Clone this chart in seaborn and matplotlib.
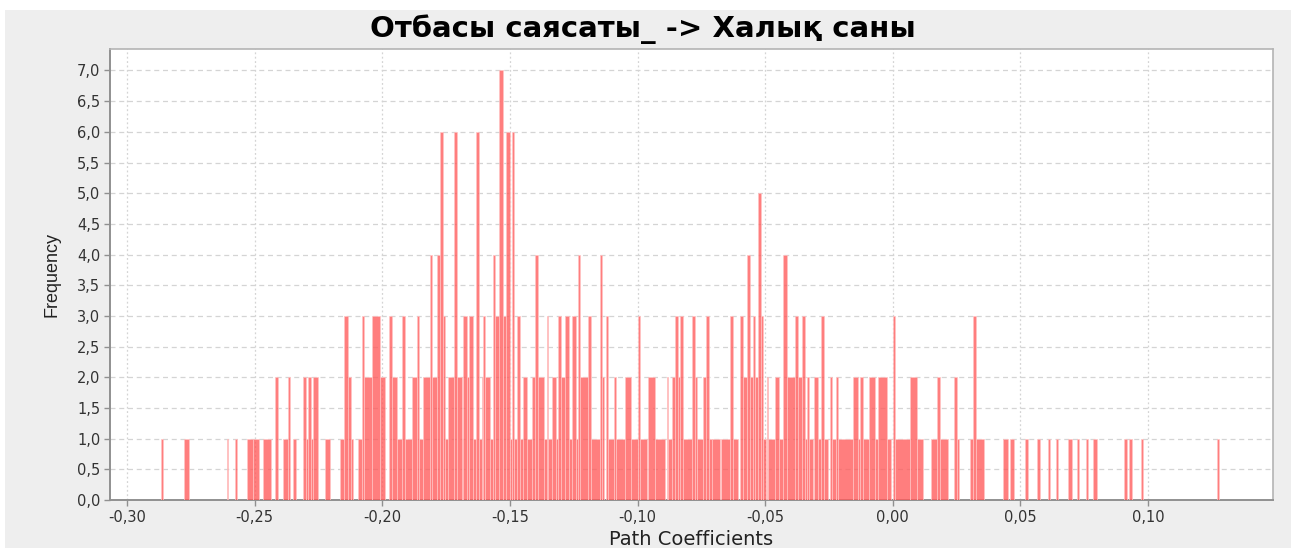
import numpy as np
import pandas as pd
import seaborn as sns
import matplotlib
matplotlib.use("Agg")
import matplotlib.pyplot as plt
from matplotlib.ticker import FuncFormatter, MultipleLocator
from matplotlib.patches import Rectangle

title = "Отбасы саясаты_ -> Халық саны"
x_label = "Path Coefficients"
y_label = "Frequency"

# histogram bars: left edge, right edge, frequency
bar_left = [
    -0.2868, -0.2777, -0.2610, -0.2577, -0.2529, -0.2505, -0.2468, -0.2420, -0.2388, -0.2368,
    -0.2351, -0.2311, -0.2299, -0.2291, -0.2279, -0.2271, -0.2224, -0.2165, -0.2149, -0.2135,
    -0.2122, -0.2096, -0.2080, -0.2070, -0.2041, -0.2009, -0.1973, -0.1963, -0.1944, -0.1924,
    -0.1911, -0.1885, -0.1865, -0.1856, -0.1839, -0.1813, -0.1804, -0.1787, -0.1774, -0.1761,
    -0.1754, -0.1741, -0.1718, -0.1706, -0.1689, -0.1682, -0.1669, -0.1659, -0.1646, -0.1633,
    -0.1621, -0.1611, -0.1604, -0.1598, -0.1578, -0.1567, -0.1558, -0.1542, -0.1528, -0.1515,
    -0.1500, -0.1491, -0.1483, -0.1473, -0.1460, -0.1450, -0.1434, -0.1414, -0.1402, -0.1389,
    -0.1366, -0.1356, -0.1349, -0.1336, -0.1319, -0.1310, -0.1301, -0.1284, -0.1268, -0.1255,
    -0.1242, -0.1234, -0.1225, -0.1193, -0.1182, -0.1147, -0.1140, -0.1125, -0.1117, -0.1091,
    -0.1085, -0.1049, -0.1025, -0.0997, -0.0990, -0.0960, -0.0931, -0.0885, -0.0879, -0.0866,
    -0.0853, -0.0840, -0.0833, -0.0822, -0.0788, -0.0775, -0.0768, -0.0745, -0.0732, -0.0719,
    -0.0708, -0.0673, -0.0638, -0.0627, -0.0598, -0.0588, -0.0572, -0.0559, -0.0549, -0.0540,
    -0.0528, -0.0517, -0.0507, -0.0494, -0.0487, -0.0461, -0.0444, -0.0431, -0.0413, -0.0383,
    -0.0373, -0.0357, -0.0344, -0.0337, -0.0328, -0.0307, -0.0294, -0.0281, -0.0268, -0.0246,
    -0.0239, -0.0224, -0.0216, -0.0155, -0.0137, -0.0128, -0.0115, -0.0093, -0.0069, -0.0059,
    -0.0024, 0.0002, 0.0009, 0.0067, 0.0094, 0.0149, 0.0172, 0.0185, 0.0240, 0.0251,
    0.0303, 0.0316, 0.0326, 0.0431, 0.0459, 0.0518, 0.0564, 0.0607, 0.0638, 0.0688,
    0.0723, 0.0756, 0.0786, 0.0906, 0.0927, 0.0971, 0.1270,
]
bar_right = [
    -0.2860, -0.2757, -0.2604, -0.2571, -0.2507, -0.2483, -0.2437, -0.2407, -0.2368, -0.2362,
    -0.2338, -0.2299, -0.2291, -0.2279, -0.2271, -0.2252, -0.2205, -0.2149, -0.2135, -0.2122,
    -0.2113, -0.2080, -0.2070, -0.2041, -0.2009, -0.1989, -0.1963, -0.1944, -0.1924, -0.1911,
    -0.1885, -0.1865, -0.1856, -0.1839, -0.1813, -0.1804, -0.1787, -0.1774, -0.1761, -0.1754,
    -0.1741, -0.1718, -0.1706, -0.1689, -0.1682, -0.1669, -0.1659, -0.1646, -0.1633, -0.1621,
    -0.1611, -0.1604, -0.1598, -0.1578, -0.1567, -0.1558, -0.1542, -0.1528, -0.1515, -0.1500,
    -0.1491, -0.1483, -0.1473, -0.1460, -0.1450, -0.1434, -0.1414, -0.1402, -0.1389, -0.1366,
    -0.1356, -0.1349, -0.1336, -0.1319, -0.1310, -0.1301, -0.1284, -0.1268, -0.1255, -0.1242,
    -0.1234, -0.1225, -0.1193, -0.1182, -0.1147, -0.1140, -0.1130, -0.1117, -0.1092, -0.1085,
    -0.1049, -0.1025, -0.0997, -0.0990, -0.0964, -0.0931, -0.0892, -0.0879, -0.0866, -0.0853,
    -0.0840, -0.0833, -0.0822, -0.0788, -0.0775, -0.0768, -0.0745, -0.0732, -0.0719, -0.0709,
    -0.0677, -0.0638, -0.0627, -0.0606, -0.0588, -0.0572, -0.0559, -0.0549, -0.0540, -0.0528,
    -0.0517, -0.0507, -0.0496, -0.0487, -0.0461, -0.0444, -0.0431, -0.0413, -0.0383, -0.0373,
    -0.0357, -0.0344, -0.0337, -0.0328, -0.0311, -0.0294, -0.0281, -0.0268, -0.0253, -0.0239,
    -0.0224, -0.0216, -0.0155, -0.0137, -0.0128, -0.0115, -0.0093, -0.0069, -0.0059, -0.0024,
    -0.0007, 0.0009, 0.0067, 0.0094, 0.0117, 0.0172, 0.0185, 0.0218, 0.0251, 0.0261,
    0.0316, 0.0326, 0.0358, 0.0453, 0.0475, 0.0531, 0.0577, 0.0616, 0.0649, 0.0701,
    0.0731, 0.0766, 0.0799, 0.0916, 0.0938, 0.0982, 0.1280,
]
frequency = [
    1, 1, 1, 1, 1, 1, 1, 2, 1, 2,
    1, 2, 1, 2, 1, 2, 1, 1, 3, 2,
    1, 1, 3, 2, 3, 2, 3, 2, 1, 3,
    1, 2, 3, 1, 2, 4, 2, 4, 6, 3,
    1, 2, 6, 2, 1, 3, 2, 3, 1, 6,
    1, 2, 3, 2, 1, 4, 3, 7, 3, 6,
    1, 6, 1, 3, 1, 2, 1, 2, 4, 2,
    1, 3, 1, 2, 1, 3, 2, 3, 1, 3,
    1, 4, 2, 3, 1, 4, 2, 3, 1, 2,
    1, 2, 1, 3, 1, 2, 1, 2, 1, 2,
    3, 2, 3, 1, 3, 2, 1, 2, 3, 1,
    1, 1, 3, 1, 3, 2, 4, 2, 3, 2,
    5, 3, 1, 2, 1, 2, 1, 4, 2, 3,
    2, 3, 1, 2, 1, 2, 1, 3, 1, 2,
    1, 2, 1, 2, 1, 2, 1, 2, 1, 2,
    1, 3, 1, 2, 1, 1, 2, 1, 2, 1,
    1, 3, 1, 1, 1, 1, 1, 1, 1, 1,
    1, 1, 1, 1, 1, 1, 1,
]

df = pd.DataFrame({"left": bar_left, "right": bar_right, "freq": frequency})
df["mid"] = (df["left"] + df["right"]) / 2
edges = sorted(set(bar_left) | set(bar_right))

sns.set_style("white")
plt.rcParams["font.family"] = ["DejaVu Sans"]

fig = plt.figure(figsize=(12.94, 5.51), dpi=100)
fig.patch.set_facecolor("white")
fig.add_artist(Rectangle((5 / 1294, 3 / 551), 1286 / 1294, 538 / 551,
                         transform=fig.transFigure, facecolor="#eeeeee",
                         edgecolor="none", zorder=-10))
ax = fig.add_axes([110 / 1294, 1 - 500 / 551, 1163 / 1294, 451 / 551])
ax.set_facecolor("white")

sns.histplot(data=df, x="mid", weights="freq", bins=list(edges), ax=ax,
             color="#ff5a5a", alpha=0.78, edgecolor="#ffc4c4", linewidth=0.5,
             zorder=3)

ax.set_xlim(-0.3067, 0.149)
ax.set_ylim(0, 7.35)
ax.xaxis.set_major_locator(MultipleLocator(0.05))
ax.yaxis.set_major_locator(MultipleLocator(0.5))
ax.xaxis.set_major_formatter(FuncFormatter(lambda v, p: f"{v:.2f}".replace(".", ",")))
ax.yaxis.set_major_formatter(FuncFormatter(lambda v, p: f"{v:.1f}".replace(".", ",")))

ax.grid(False)
for yv in np.arange(0.5, 7.01, 0.5):
    ax.axhline(yv, color="#d4d4d4", linestyle=(0, (4, 3)), linewidth=0.9, zorder=1)
for xv in np.arange(-0.30, 0.101, 0.05):
    ax.axvline(xv, color="#d4d4d4", linestyle=(0, (1.5, 2)), linewidth=0.9, zorder=1)

for side in ["left", "bottom"]:
    ax.spines[side].set_color("#909090")
    ax.spines[side].set_linewidth(1.4)
for side in ["top", "right"]:
    ax.spines[side].set_color("#b4b4b4")
    ax.spines[side].set_linewidth(1.2)

ax.tick_params(axis="both", which="major", direction="out", length=4, width=1,
               color="#909090", labelsize=10.5, labelcolor="#333333", pad=3,
               bottom=True, left=True)

ax.set_xlabel(x_label, fontsize=14, color="#222222", labelpad=4)
ax.set_ylabel(y_label, fontsize=13, color="#222222", labelpad=12,
              family=["Liberation Sans Narrow", "Liberation Sans", "DejaVu Sans"])

fig.text(0.497, 1 - 29 / 551, title, ha="center", va="center", fontsize=21,
         fontweight="bold", color="black")

fig.savefig("out.png", dpi=100)
